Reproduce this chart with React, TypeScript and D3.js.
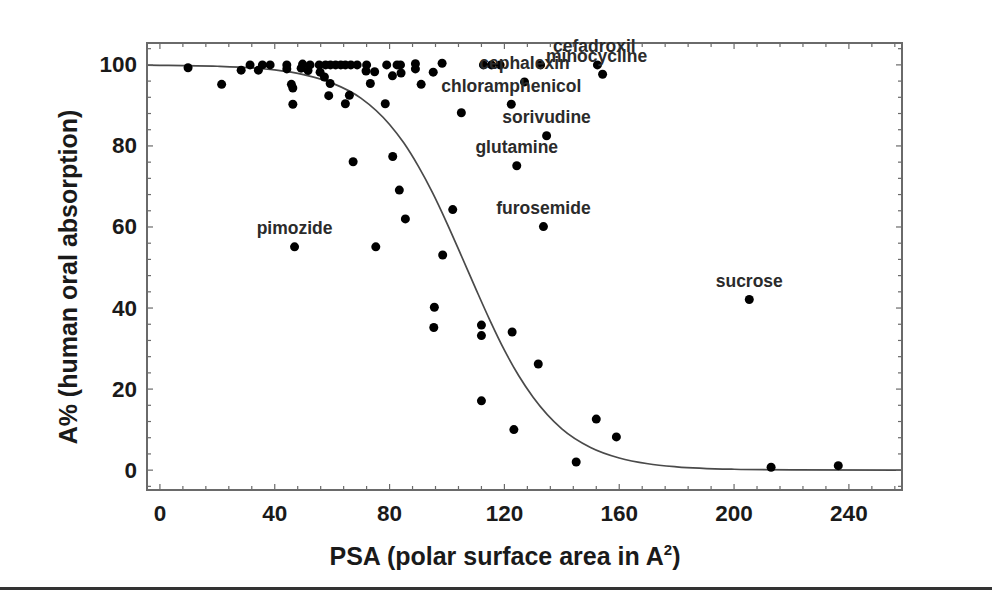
import React from "react";
import * as d3 from "d3";

// Measured compounds: polar surface area (x) and human oral absorption % (y)
const psa = [
  9.8, 21.5, 28.3, 31.4, 34.3, 35.7, 38.4, 44.2, 44.2, 45.8, 46.3, 46.3, 49.2, 49.7, 52.3, 51.6,
  55.5, 55.8, 57.3, 57.7, 59.4, 61.2, 63, 64.6, 66.5, 68.7, 59.3, 58.8, 66, 64.6, 71.8, 72,
  74.8, 73.3, 78.5, 79, 82.6, 81, 83.8, 84, 89, 89, 91, 95.2, 98.3, 105, 112.7, 115.5,
  118.5, 132.6, 212.9, 236.3, 67.3, 81.1, 83.4, 85.5, 75.2, 102, 98.5, 95.6, 95.4, 112, 112, 122.7,
  131.8, 112, 123.3, 152, 159, 145,
];
const absorption = [
  99.3, 95.2, 98.7, 100, 98.7, 100, 100, 100, 99, 95.2, 94.3, 90.3, 99.2, 100.2, 100, 98.6,
  100, 98.2, 97, 100, 100, 100, 100, 100, 100, 100, 95.4, 92.4, 92.5, 90.4, 98.5, 100,
  98.3, 95.4, 90.4, 100, 100, 97.3, 100, 98, 100.3, 99, 95.2, 98.2, 100.4, 88.2, 100, 100,
  100, 100, 0.7, 1.1, 76.1, 77.4, 69.1, 62, 55.1, 64.3, 53.1, 40.2, 35.2, 35.8, 33.2, 34.1,
  26.2, 17.1, 10, 12.6, 8.2, 2,
];

// Named compounds
const labelNames = [
  "cefadroxil", "minocycline", "cephalexin", "chloramphenicol", "sorivudine",
  "glutamine", "furosemide", "pimozide", "sucrose",
];
const labelPsa = [152.4, 154.2, 127, 122.4, 134.7, 124.3, 133.6, 46.9, 205.3];
const labelAbs = [100, 97.7, 95.8, 90.3, 82.5, 75.1, 60.1, 55.1, 42.1];

// Sigmoidal fit curve
const curvePsa = [-4.5, 0, 20, 40, 50, 60, 70, 80, 85, 90, 95, 100, 105, 110, 115, 120, 125, 130, 140, 150, 160, 170, 180, 200, 220, 258.5];
const curveAbs = [99.93, 99.9, 99.66, 98.76, 97.6, 95.5, 91.8, 85.3, 80.7, 75.0, 68.4, 60.9, 52.9, 44.8, 36.9, 29.6, 23.3, 18.0, 10.2, 5.6, 3.0, 1.57, 0.82, 0.22, 0.06, 0.005];

const xTicks = [0, 40, 80, 120, 160, 200, 240];
const yTicks = [0, 20, 40, 60, 80, 100];

export default function App() {
  const W = 992, H = 590;
  const L = 147, R = 902, T = 43, B = 490;
  const x = d3.scaleLinear().domain([-4.5, 258.5]).range([L, R]);
  const y = d3.scaleLinear().domain([-4.9, 105.4]).range([B, T]);

  const xMinor = d3.range(0, 258, 8);
  const yMinor = d3.range(-4, 105, 4);

  const curveData = curvePsa.map((v, i) => [v, curveAbs[i]] as [number, number]);
  const line = d3
    .line<[number, number]>()
    .x((d) => x(d[0]))
    .y((d) => y(d[1]))
    .curve(d3.curveMonotoneX);

  const font = "'Liberation Sans', Arial, Helvetica, sans-serif";
  const frameColor = "#6a6a6a";
  // small horizontal nudges for the two crowded labels at the top
  const labelDx: Record<string, number> = { cefadroxil: -3, minocycline: -6 };

  return (
    <svg
      width={W}
      height={H}
      style={{ position: "absolute", left: 0, top: 0, background: "#fff" }}
      fontFamily={font}
    >
      <rect x={0} y={0} width={W} height={H} fill="#fff" />

      {/* curve */}
      <path d={line(curveData) || ""} fill="none" stroke="#4a4a4a" strokeWidth={1.7} />

      {/* frame ticks */}
      <g stroke={frameColor} strokeWidth={1.2}>
        {xMinor.map((v) => {
          const len = v % 40 === 0 ? 6 : 4;
          return (
            <g key={"xt" + v}>
              <line x1={x(v)} x2={x(v)} y1={B} y2={B - len} />
              <line x1={x(v)} x2={x(v)} y1={T} y2={T + len} />
            </g>
          );
        })}
        {yMinor.map((v) => {
          const len = v % 20 === 0 ? 6 : 4;
          return (
            <g key={"yt" + v}>
              <line x1={L} x2={L + len} y1={y(v)} y2={y(v)} />
              <line x1={R} x2={R - len} y1={y(v)} y2={y(v)} />
            </g>
          );
        })}
      </g>
      <rect x={L} y={T} width={R - L} height={B - T} fill="none" stroke={frameColor} strokeWidth={2} />

      {/* points */}
      {psa.map((v, i) => (
        <circle key={"p" + i} cx={x(v)} cy={y(absorption[i])} r={4.5} fill="#000" />
      ))}
      {labelPsa.map((v, i) => (
        <circle key={"lp" + i} cx={x(v)} cy={y(labelAbs[i])} r={4.5} fill="#000" />
      ))}

      {/* compound labels */}
      {labelNames.map((n, i) => (
        <text
          key={"l" + n}
          x={x(labelPsa[i]) + (labelDx[n] || 0)}
          y={y(labelAbs[i]) - 12.5}
          textAnchor="middle"
          fontSize={17.5}
          fontWeight="bold"
          fill="#2b2b2b"
        >
          {n}
        </text>
      ))}

      {/* tick labels */}
      {xTicks.map((v) => (
        <text
          key={"xl" + v}
          x={x(v)}
          y={513}
          textAnchor="middle"
          dominantBaseline="central"
          fontSize={22.5}
          fontWeight="bold"
          fill="#1a1a1a"
        >
          {v}
        </text>
      ))}
      {yTicks.map((v) => (
        <text
          key={"yl" + v}
          x={137}
          y={y(v)}
          textAnchor="end"
          dominantBaseline="central"
          fontSize={22.5}
          fontWeight="bold"
          fill="#1a1a1a"
        >
          {v}
        </text>
      ))}

      {/* axis titles */}
      <text x={505} y={565} textAnchor="middle" fontSize={25} fontWeight="bold" fill="#1a1a1a">
        PSA (polar surface area in A
        <tspan dy={-10} fontSize={15}>2</tspan>
        <tspan dy={10}>)</tspan>
      </text>
      <text
        transform="translate(77,277) rotate(-90)"
        textAnchor="middle"
        fontSize={25}
        fontWeight="bold"
        fill="#1a1a1a"
      >
        A% (human oral absorption)
      </text>

      {/* bottom edge band */}
      <rect x={0} y={587} width={W} height={3} fill="#333" />
    </svg>
  );
}
